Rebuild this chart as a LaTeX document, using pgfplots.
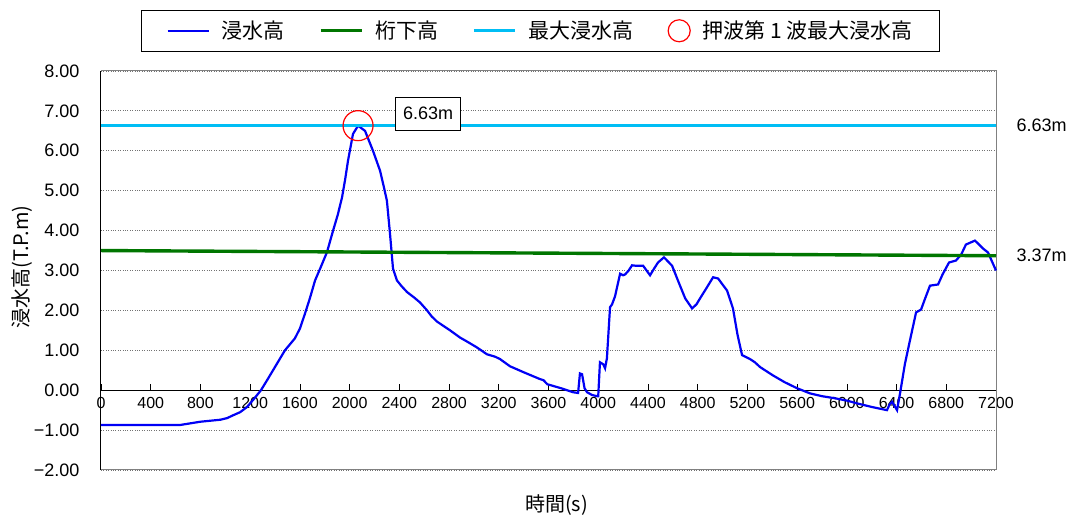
\documentclass[border=0pt]{standalone}
\usepackage{fontspec}
\setmainfont{Liberation Sans}
\newfontfamily\cjk{Noto Sans CJK JP}
\usepackage{pgfplots}
\pgfplotsset{compat=1.18}

\definecolor{wblue}{RGB}{0,0,245}
\definecolor{kgreen}{RGB}{0,118,0}
\definecolor{mcyan}{RGB}{0,190,245}

% water level (T.P.m) over time (s)
\pgfplotstableread{
t h
0 -0.87
640 -0.87
700 -0.84
800 -0.79
960 -0.74
1014 -0.70
1062 -0.63
1120 -0.55
1175 -0.42
1230 -0.22
1287 0.00
1340 0.27
1384 0.50
1480 1.00
1560 1.30
1601 1.55
1641 1.92
1680 2.30
1722 2.75
1770 3.10
1818 3.46
1867 4.00
1905 4.40
1939 4.83
1965 5.30
1987 5.75
2027 6.42
2068 6.63
2124 6.50
2188 6.00
2245 5.50
2275 5.10
2300 4.75
2325 3.92
2349 3.05
2381 2.75
2420 2.60
2462 2.46
2520 2.32
2566 2.20
2623 2.00
2660 1.85
2703 1.72
2808 1.50
2888 1.32
2944 1.22
3020 1.08
3105 0.90
3170 0.84
3210 0.78
3290 0.60
3400 0.45
3530 0.28
3560 0.25
3590 0.15
3700 0.05
3797 -0.05
3838 -0.07
3853 0.42
3870 0.40
3890 0.05
3910 -0.05
3950 -0.12
3990 -0.15
4000 -0.15
4014 0.70
4040 0.65
4055 0.55
4070 0.80
4095 2.08
4111 2.15
4135 2.35
4176 2.92
4200 2.88
4216 2.90
4245 3.00
4272 3.13
4300 3.12
4361 3.12
4417 2.88
4450 3.05
4481 3.20
4529 3.33
4594 3.12
4658 2.62
4700 2.30
4755 2.05
4790 2.15
4819 2.30
4875 2.58
4924 2.83
4964 2.80
5000 2.65
5036 2.50
5084 2.05
5120 1.40
5157 0.88
5221 0.78
5260 0.70
5302 0.58
5406 0.37
5500 0.20
5599 0.05
5704 -0.08
5800 -0.15
5900 -0.20
6000 -0.26
6082 -0.33
6200 -0.42
6323 -0.50
6345 -0.35
6364 -0.29
6385 -0.40
6404 -0.50
6428 -0.08
6468 0.67
6508 1.25
6557 1.95
6597 2.02
6630 2.30
6669 2.62
6734 2.65
6770 2.90
6822 3.20
6878 3.25
6920 3.40
6958 3.65
7031 3.75
7096 3.55
7136 3.45
7200 3.00
}\flood

\begin{document}
\begin{tikzpicture}[x=1pt,y=1pt]
\path[use as bounding box] (0,0) rectangle (1076,519);
\begin{axis}[
  at={(101pt,49pt)}, anchor=south west,
  scale only axis, width=895pt, height=399pt,
  xmin=0, xmax=7200, ymin=-2, ymax=8,
  axis x line=middle, axis y line=left,
  axis line style={-},
  x axis line style={black, line width=1pt},
  y axis line style={black, line width=1pt},
  hide obscured x ticks=false,
  xtick={0,400,...,7200},
  ytick={-2,-1,...,8},
  yticklabels={−2.00,−1.00,0.00,1.00,2.00,3.00,4.00,5.00,6.00,7.00,8.00},
  /pgf/number format/1000 sep={},
  /pgf/number format/assume math mode=true,
  tick align=inside,
  major tick length=6pt,
  xtick style={black, line width=0.6pt},
  ytick style={draw=none},
  xticklabel style={font=\fontsize{16}{18}\selectfont, anchor=north, yshift=-4pt},
  yticklabel style={font=\fontsize{18}{20}\selectfont, anchor=east, xshift=-18pt},
  ymajorgrids,
  grid style={dotted, black!55, line width=0.8pt},
  xlabel={\cjk 時間(s)},
  ylabel={\cjk 浸水高(T.P.m)},
  every axis x label/.style={at={(axis description cs:0.509,-0.088)}, anchor=center, font=\fontsize{20}{22}\selectfont},
  every axis y label/.style={at={(axis description cs:-0.088,0.509)}, rotate=90, anchor=center, font=\fontsize{20}{22}\selectfont},
  clip=false,
  legend columns=4,
  legend cell align=left,
  legend image code/.code={\draw[#1] (0pt,0pt) -- (41pt,0pt);},
  legend style={at={(axis description cs:0.0447,1.0476)}, anchor=south west,
    draw=black, line width=1.2pt, inner xsep=25pt, inner ysep=9pt,
    font=\cjk\fontsize{21}{23}\selectfont,
    /tikz/every odd column/.append style={column sep=10pt},
    /tikz/every even column/.append style={column sep=32pt}},
]
\draw[gray, line width=1pt] (rel axis cs:0,1) -- (rel axis cs:1,1) -- (rel axis cs:1,0) -- (rel axis cs:0,0);
\addplot[wblue, line width=2.2pt] table[x=t, y=h] {\flood};
\addlegendentry{浸水高}
\addplot[kgreen, line width=3.4pt] coordinates {(0,3.50) (7200,3.37)};
\addlegendentry{桁下高}
\addplot[mcyan, line width=3.4pt] coordinates {(0,6.63) (7200,6.63)};
\addlegendentry{最大浸水高}
\addplot[red, line width=1.2pt, only marks, mark=o, mark size=15pt,
  legend image code/.code={\draw[red, line width=1.2pt] (11pt,0pt) circle (11pt);}]
  coordinates {(2068,6.63)};
\addlegendentry{押波第 1 波最大浸水高}
\node[draw=black, fill=white, line width=0.8pt, minimum width=65pt, minimum height=33pt,
  inner sep=2pt, font=\fontsize{18}{20}\selectfont] at (axis cs:2631,6.93) {6.63m};
\node[anchor=west, xshift=17pt, font=\fontsize{18}{20}\selectfont] at (axis cs:7200,6.63) {6.63m};
\node[anchor=west, xshift=17pt, font=\fontsize{18}{20}\selectfont] at (axis cs:7200,3.37) {3.37m};
\end{axis}
\end{tikzpicture}
\end{document}
